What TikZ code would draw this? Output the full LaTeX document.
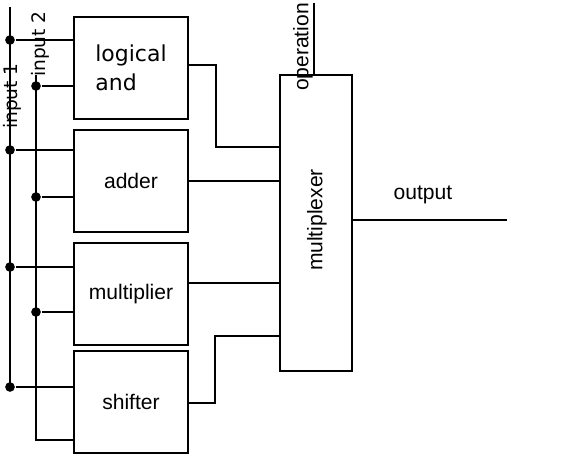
\documentclass[tikz,border=0pt]{standalone}
\usepackage{fontspec}
\setmainfont{Liberation Sans}
\newfontfamily\dejavu{DejaVu Sans}
\begin{document}
\begin{tikzpicture}[x=0.02cm, y=-0.02cm, line width=1.2pt,
    unit/.style={draw, minimum width=2.28cm, minimum height=2.04cm, font=\fontsize{12}{14}\selectfont},
    muxbox/.style={draw, minimum width=1.44cm, minimum height=5.92cm},
    dot/.style={circle, fill, inner sep=0pt, minimum size=5.5pt},
    lbl/.style={font=\fontsize{12}{14}\selectfont, inner sep=0pt},
    inlbl/.style={font=\dejavu\fontsize{10.6}{12}\selectfont, inner sep=0pt, rotate=90}]
  \useasboundingbox (0,0) rectangle (582,456);
  % the four units
  \node[unit, align=left, font=\dejavu\fontsize{12.5}{16.4}\selectfont] (and) at (131,68) {logical\\and};
  \node[unit] (adder) at (131,181) {adder};
  \node[unit] (multiplier) at (131,294) {multiplier};
  \node[unit] (shifter) at (131,402) {shifter};
  % multiplexer
  \node[muxbox] (mux) at (316,223) {};
  \node[lbl, rotate=90] (muxlbl) at (317,220) {multiplexer};
  % inputs
  \coordinate (in1top) at (10,7);
  \coordinate (in1bot) at (10,387);
  \draw (in1top) -- (in1bot);
  \node[inlbl] (in1lbl) at (12,96) {input 1};
  \foreach \y/\blk in {40/and, 150/adder, 267/multiplier, 387/shifter} {
    \node[dot] (a-\blk) at (10,\y) {};
    \draw (a-\blk) -- (a-\blk -| \blk.west);
  }
  \coordinate (in2top) at (36,75);
  \coordinate (in2bot) at (36,440);
  \draw (in2top) -- (in2bot) -- (in2bot -| shifter.west);
  \node[inlbl] (in2lbl) at (40,44) {input 2};
  \foreach \y/\blk in {86/and, 197/adder, 312/multiplier} {
    \node[dot] (b-\blk) at (36,\y) {};
    \draw (b-\blk) -- (b-\blk -| \blk.west);
  }
  % unit outputs into the multiplexer
  \draw (and.east |- 0,65) -| (216,147) -- (mux.west |- 0,147);
  \draw (adder.east) -- (adder.east -| mux.west);
  \draw (multiplier.east |- 0,283) -- (mux.west |- 0,283);
  \draw (shifter.east |- 0,403) -| (215,336) -- (mux.west |- 0,336);
  % operation and output
  \coordinate (op) at (314,3);
  \draw (op) -- (op |- mux.north);
  \node[lbl, rotate=90] (oplbl) at (303,47) {operation};
  \coordinate (out) at (507,220);
  \draw (mux.east |- out) -- (out);
  \node[lbl] (outlbl) at (423,195) {output};
\end{tikzpicture}
\end{document}
